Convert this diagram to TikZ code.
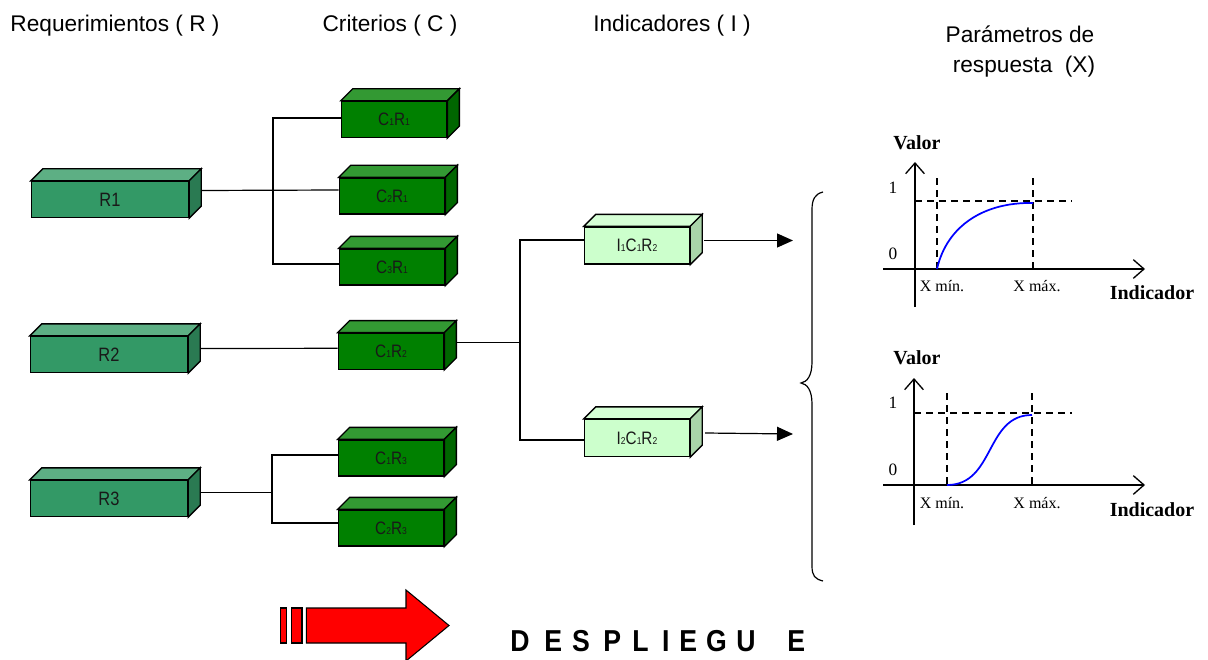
\documentclass[tikz,border=0pt]{standalone}
\usepackage{fontspec}
\setmainfont{Liberation Serif}
\setsansfont{Liberation Sans}
\newfontfamily\narrowsans[FakeStretch=0.85]{Liberation Sans}
\newfontfamily\bannerfont[FakeStretch=0.88]{Liberation Sans Bold}
\usetikzlibrary{arrows.meta,calc}

\definecolor{rfront}{HTML}{339966}
\definecolor{rtop}{HTML}{5DAF84}
\definecolor{rside}{HTML}{2A7A52}
\definecolor{cfront}{HTML}{008000}
\definecolor{ctop}{HTML}{339933}
\definecolor{cside}{HTML}{006600}
\definecolor{ifront}{HTML}{CCFFCC}
\definecolor{itop}{HTML}{D6FFD6}
\definecolor{iside}{HTML}{A9D4A9}
\definecolor{curveblue}{HTML}{0000FF}
\definecolor{arrowred}{HTML}{FF0000}

% small index digit sitting on the baseline of the box labels
\newcommand{\sbs}[1]{{\fontsize{7.5}{8}\selectfont #1}}
% one letter of the spaced-out banner, in a cell of fixed width
\newcommand{\lt}[2]{\makebox[#1pt][l]{#2}}

% top and right faces of a 3D box whose front face is the node #1
\newcommand{\boxfaces}[3]{%
  \filldraw[boxline, fill=#2] (#1.north west) -- ++(12,-12) -- ($(#1.north east)+(12,-12)$) -- (#1.north east) -- cycle;
  \filldraw[boxline, fill=#3] (#1.north east) -- ++(12,-12) -- ($(#1.south east)+(12,-12)$) -- (#1.south east) -- cycle;}

\begin{document}
\begin{tikzpicture}[x=0.75pt, y=-0.75pt,
  boxline/.style={draw=black, line width=1pt, line join=miter},
  cube/.style={boxline, rectangle, inner sep=0pt, text=black!90,
    font=\narrowsans\fontsize{13.5}{15}\selectfont},
  rcube/.style={cube, fill=rfront, minimum width=117.75pt, minimum height=27pt,
    font=\narrowsans\fontsize{14.5}{16}\selectfont},
  ccube/.style={cube, fill=cfront, minimum width=79pt, minimum height=27pt},
  icube/.style={cube, fill=ifront, minimum width=78.75pt, minimum height=27.75pt},
  link/.style={draw=black, line width=0.9pt},
  tip/.style={-{Triangle[length=12pt,width=10.5pt]}},
  title/.style={anchor=base, font=\sffamily\fontsize{17}{19}\selectfont},
  axis/.style={line width=1pt, -{Straight Barb[length=8pt,width=14pt]}},
  guide/.style={line width=1pt, dash pattern=on 5pt off 4pt},
  valcurve/.style={line width=1.3pt, draw=curveblue},
  bold/.style={font=\bfseries\fontsize{15}{15}\selectfont},
  tick/.style={font=\fontsize{12}{12}\selectfont},
  num/.style={font=\fontsize{13}{13}\selectfont}]

\useasboundingbox (0,0) rectangle (1208,660);

% column headings
\node[title] (hR) at (115,32) {Requerimientos ( R )};
\node[title] (hC) at (390,32) {Criterios ( C )};
\node[title] (hI) at (672,32) {Indicadores ( I )};
\node[title] (hX1) at (1020,43) {Parámetros de};
\node[title] (hX2) at (1024,73) {respuesta \ (X)};

% requirement boxes
\node[rcube] (R1) at (110,199.5) {R1};
\node[rcube] (R2) at (109,354.5) {R2};
\node[rcube] (R3) at (109,498.5) {R3};
\boxfaces{R1}{rtop}{rside}
\boxfaces{R2}{rtop}{rside}
\boxfaces{R3}{rtop}{rside}

% criterion boxes
\node[ccube] (C11) at (394,119.5) {C\sbs{1}R\sbs{1}};
\node[ccube] (C21) at (392,196) {C\sbs{2}R\sbs{1}};
\node[ccube] (C31) at (392,267) {C\sbs{3}R\sbs{1}};
\node[ccube] (C12) at (391,351.3) {C\sbs{1}R\sbs{2}};
\node[ccube] (C13) at (391,458) {C\sbs{1}R\sbs{3}};
\node[ccube] (C23) at (391,528) {C\sbs{2}R\sbs{3}};
\foreach \n in {C11,C21,C31,C12,C13,C23}{\boxfaces{\n}{ctop}{cside}}

% indicator boxes
\node[icube] (I1) at (637,245.5) {I\sbs{1}C\sbs{1}R\sbs{2}};
\node[icube] (I2) at (637,438) {I\sbs{2}C\sbs{1}R\sbs{2}};
\boxfaces{I1}{itop}{iside}
\boxfaces{I2}{itop}{iside}

% bus lines of the tree
\coordinate (b1) at (273,0);
\coordinate (b3) at (272,0);
\coordinate (b4) at (520,0);

\draw[link] ($(R1.east)+(12,-9)$) -- ($(C21.west)+(0,-6)$);
\coordinate (c11) at ($(C11.west)+(0,-1.5)$);
\coordinate (c31) at ($(C31.west)+(0,-3)$);
\draw[link] (c11) -- (c11 -| b1) -- (c31 -| b1) -- (c31);

\draw[link] ($(R2.east)+(12,-6)$) -- ($(C12.west)+(0,-3)$);

\coordinate (r3) at ($(R3.east)+(12,-6)$);
\draw[link] (r3) -- (r3 -| b3);
\coordinate (c13) at ($(C13.west)+(0,-3)$);
\coordinate (c23) at ($(C23.west)+(0,-5)$);
\draw[link] (c13) -- (c13 -| b3) -- (c23 -| b3) -- (c23);

\coordinate (c12) at ($(C12.east)+(12,-9)$);
\draw[link] (c12) -- (c12 -| b4);
\coordinate (i1) at ($(I1.west)+(0,-5.5)$);
\coordinate (i2) at ($(I2.west)+(0,2)$);
\draw[link] (i1) -- (i1 -| b4) -- (i2 -| b4) -- (i2);

% arrows towards the response parameters
\coordinate (e1) at (793,240.5);
\coordinate (e2) at (793,434);
\draw[link, tip] ($(I1.east)+(14,-5)$) -- (e1);
\draw[link, tip] ($(I2.east)+(15,-5)$) -- (e2);

% curly brace
\draw[line width=0.9pt] (823,192) .. controls (815,194) and (812,199) .. (812,210)
  -- (812,362) .. controls (812,376) and (807,382) .. (801,383)
  .. controls (807,384) and (812,390) .. (812,404)
  -- (812,566) .. controls (812,576) and (815,579) .. (823,581);

% first response curve
\node[bold] (v1) at (917,143) {Valor};
\draw[axis] (883,269) -- (1145,269);
\draw[axis] (915,307) -- (915,162);
\node[num] (one1) at (893,188) {1};
\node[num] (zero1) at (893,254) {0};
\draw[guide] (937,178) -- (937,269);
\draw[guide] (1033,178) -- (1033,269);
\draw[guide] (915,201) -- (1072,201);
\draw[valcurve] (937,269) .. controls (947,225) and (985,202) .. (1033,203);
\node[tick] (mn1) at (942,286) {X mín.};
\node[tick] (mx1) at (1037,286) {X máx.};
\node[bold] (ind1) at (1152,293) {Indicador};

% second response curve
\node[bold] (v2) at (917,358) {Valor};
\draw[axis] (883,485) -- (1145,485);
\draw[axis] (914,525) -- (914,378);
\node[num] (one2) at (893,403) {1};
\node[num] (zero2) at (893,470) {0};
\draw[guide] (947,393) -- (947,485);
\draw[guide] (1032,393) -- (1032,485);
\draw[guide] (914,413) -- (1072,413);
\draw[valcurve] (947,485) .. controls (995,485) and (985,415) .. (1032,415);
\node[tick] (mn2) at (942,503) {X mín.};
\node[tick] (mx2) at (1037,503) {X máx.};
\node[bold] (ind2) at (1152,510) {Indicador};

% red deployment arrow
\filldraw[fill=arrowred, draw=black, line width=0.8pt] (280.7,608) rectangle (286.8,643);
\filldraw[fill=arrowred, draw=black, line width=0.8pt] (291.4,608) rectangle (302,643);
\filldraw[fill=arrowred, draw=black, line width=0.8pt, line join=miter]
  (306.4,608) -- (406,608) -- (406,590) -- (449,625.5) -- (406,661) -- (406,643) -- (306.4,643) -- cycle;

\node[anchor=base west, inner sep=0pt, font=\bannerfont\fontsize{22.7}{24}\selectfont] (dep) at (510,651)
  {\lt{25.5}{D}\lt{21}{E}\lt{23.25}{S}\lt{21.75}{P}\lt{22.5}{L}\lt{12.75}{I}\lt{20.25}{E}\lt{22.5}{G}\lt{38.25}{U}E};
\end{tikzpicture}
\end{document}
